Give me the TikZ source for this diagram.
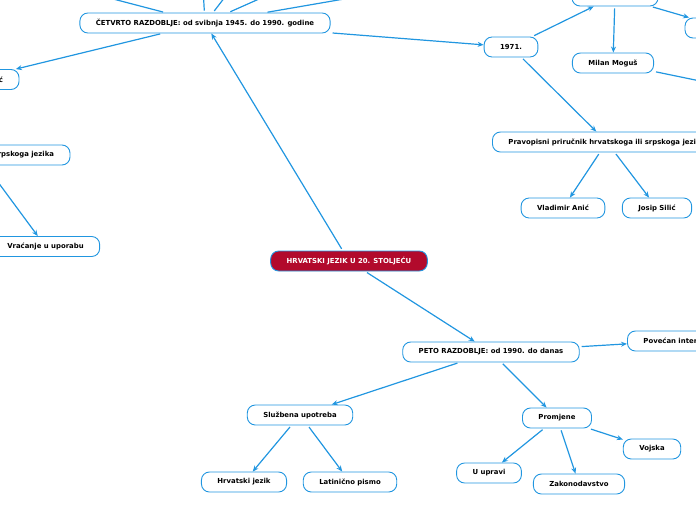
\documentclass[tikz,border=0pt]{standalone}
\usepackage{fontspec}
\setmainfont{DejaVu Sans}
\usepackage{xcolor}
\usepackage{tikz}
\usetikzlibrary{arrows.meta,positioning}
\definecolor{linkblue}{HTML}{2196E0}
\definecolor{rootred}{HTML}{B20A2C}
\tikzset{
  arr/.style={-{Stealth[length=6pt,width=5pt]},line width=1.2pt,linkblue,shorten <=2pt},
  lnk/.style={line width=1.2pt,linkblue,shorten <=2pt},
  box/.style={rectangle,rounded corners=8pt,minimum height=20pt,inner xsep=16pt,
    inner ysep=0pt,text centered,font=\fontsize{6.9}{8}\selectfont\bfseries,
    draw=linkblue,line width=0.9pt,fill=white},
}

\begin{document}
\begin{tikzpicture}[x=1pt,y=-1pt,
  rbox/.style={box,fill=rootred,text=white}]
\useasboundingbox (0,0) rectangle (696,520);
\clip (0,0) rectangle (696,520);

\node[rbox] (root) at (349,261) {HRVATSKI JEZIK U 20. STOLJEĆU};
\node[box] (cet) at (205,23) {ČETVRTO RAZDOBLJE: od svibnja 1945. do 1990. godine};
\node[box,text width=60pt,align=right] (lft) at (-27,79.5) {ć};
\node[box,text width=152pt,align=right] (srp) at (-22,155) {srpskoga jezika};
\node[box] (vrac) at (45.5,246.5) {Vraćanje u uporabu};
\node[box] (y71) at (511,47) {1971.};
\node[box,minimum width=86pt] (tr) at (615,-4) {};
\node[box,minimum width=80pt] (fr) at (725,28) {};
\node[box] (mog) at (613,63) {Milan Moguš};
\node[box,anchor=west] (ppr) at (492,142) {Pravopisni priručnik hrvatskoga ili srpskoga jezika};
\node[box] (anic) at (563,208) {Vladimir Anić};
\node[box] (silic) at (657,208) {Josip Silić};
\node[box] (peto) at (491,352) {PETO RAZDOBLJE: od 1990. do danas};
\node[box,anchor=west] (pov) at (627,341) {Povećan interes};
\node[box] (sluz) at (300,415) {Službena upotreba};
\node[box] (hrj) at (244,482) {Hrvatski jezik};
\node[box] (lat) at (350,482) {Latinično pismo};
\node[box] (prom) at (557,418) {Promjene};
\node[box] (upr) at (489,473) {U upravi};
\node[box] (zak) at (579,484) {Zakonodavstvo};
\node[box] (voj) at (652,449) {Vojska};

\coordinate (up1) at (29,-23);
\coordinate (up2) at (202,-30);
\coordinate (up3) at (235,-16);
\coordinate (up4) at (295,-17);
\coordinate (up5) at (460,-21);
\coordinate (mogout) at (763,94);

\draw[arr] (root) -- (cet);
\draw[arr] (root) -- (peto);
\draw[arr] (cet) -- (lft);
\draw[arr] (cet) -- (y71);
\foreach \c in {up1,up2,up3,up4,up5} \draw[lnk] (cet) -- (\c);
\draw[arr] (srp) -- (vrac);
\draw[arr] (y71) -- (tr);
\draw[arr] (y71) -- (ppr);
\draw[arr] (tr) -- (mog);
\draw[arr] (tr) -- (fr);
\draw[lnk] (mog) -- (mogout);
\draw[arr] (ppr) -- (anic);
\draw[arr] (ppr) -- (silic);
\draw[arr] (peto) -- (pov);
\draw[arr] (peto) -- (sluz);
\draw[arr] (peto) -- (prom);
\draw[arr] (sluz) -- (hrj);
\draw[arr] (sluz) -- (lat);
\draw[arr] (prom) -- (upr);
\draw[arr] (prom) -- (zak);
\draw[arr] (prom) -- (voj);
\end{tikzpicture}
\end{document}
